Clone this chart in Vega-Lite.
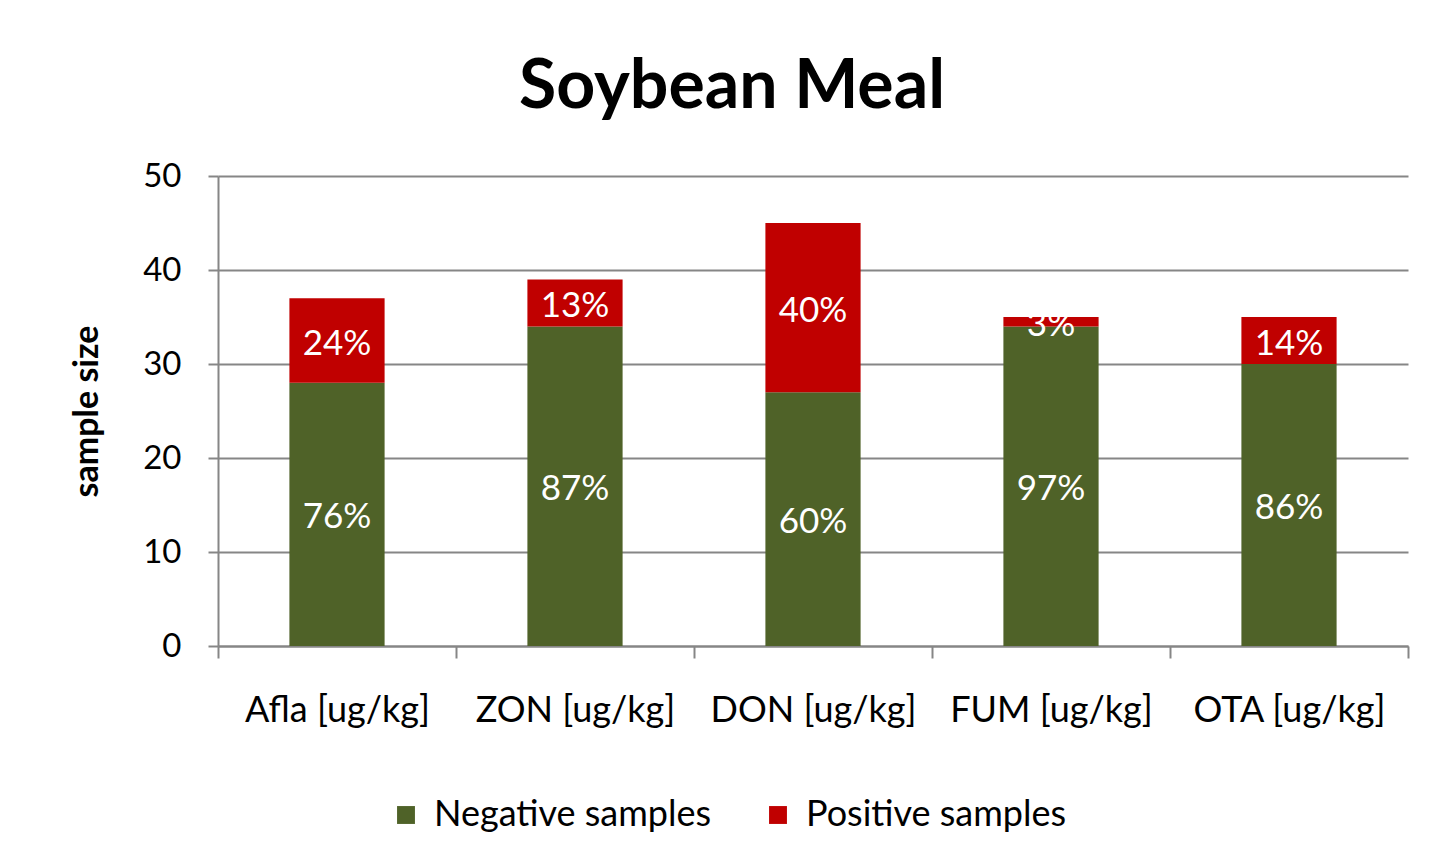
{
  "$schema": "https://vega.github.io/schema/vega-lite/v6.json",
  "width": 1190,
  "height": 470,
  "autosize": {"type": "none"},
  "padding": {"left": 218, "top": 176, "right": 27, "bottom": 222},
  "background": "white",
  "config": {"view": {"stroke": null}, "font": "Lato"},
  "title": {"text": "Soybean Meal", "font": "Lato", "fontSize": 68, "fontWeight": "bold", "color": "black", "anchor": "middle", "dx": -81, "offset": 38},
  "data": {"values": [
    {"toxin": "Afla [ug/kg]", "type": "Negative samples", "count": 28, "pct": "76%"},
    {"toxin": "Afla [ug/kg]", "type": "Positive samples", "count": 9, "pct": "24%"},
    {"toxin": "ZON [ug/kg]", "type": "Negative samples", "count": 34, "pct": "87%"},
    {"toxin": "ZON [ug/kg]", "type": "Positive samples", "count": 5, "pct": "13%"},
    {"toxin": "DON [ug/kg]", "type": "Negative samples", "count": 27, "pct": "60%"},
    {"toxin": "DON [ug/kg]", "type": "Positive samples", "count": 18, "pct": "40%"},
    {"toxin": "FUM [ug/kg]", "type": "Negative samples", "count": 34, "pct": "97%"},
    {"toxin": "FUM [ug/kg]", "type": "Positive samples", "count": 1, "pct": "3%"},
    {"toxin": "OTA [ug/kg]", "type": "Negative samples", "count": 30, "pct": "86%"},
    {"toxin": "OTA [ug/kg]", "type": "Positive samples", "count": 5, "pct": "14%"}
  ]},
  "transform": [
    {"stack": "count", "groupby": ["toxin"], "sort": [{"field": "type", "order": "ascending"}], "as": ["y0", "y1"]},
    {"calculate": "(datum.y0 + datum.y1) / 2", "as": "ymid"}
  ],
  "encoding": {
    "x": {
      "field": "toxin", "type": "nominal", "sort": null,
      "scale": {"paddingInner": 0, "paddingOuter": 0},
      "axis": {"title": null, "labelAngle": 0, "tickBand": "extent", "tickSize": 12, "tickColor": "#868686", "tickWidth": 2, "domainColor": "#868686", "domainWidth": 2, "labelFont": "Lato", "labelFontSize": 36, "labelColor": "black", "labelPadding": 35, "labelLimit": 400}
    }
  },
  "layer": [
    {
      "mark": {"type": "bar", "width": {"band": 0.4}},
      "encoding": {
        "y": {"field": "y0", "type": "quantitative", "scale": {"domain": [0, 50]},
          "axis": {"values": [0, 10, 20, 30, 40, 50], "title": "sample size", "titleFont": "Lato", "titleFontSize": 34, "titleFontWeight": "bold", "titleColor": "black", "titlePadding": 38, "grid": true, "gridColor": "#868686", "gridWidth": 2, "tickSize": 10, "tickColor": "#868686", "tickWidth": 2, "domainColor": "#868686", "domainWidth": 2, "labelFont": "Lato", "labelFontSize": 33, "labelColor": "black", "labelPadding": 27}},
        "y2": {"field": "y1"},
        "color": {"field": "type", "type": "nominal",
          "scale": {"domain": ["Negative samples", "Positive samples"], "range": ["#4F6228", "#C00000"]},
          "legend": {"title": null, "orient": "none", "legendX": 170, "legendY": 621, "direction": "horizontal", "symbolType": "square", "symbolSize": 320, "symbolStrokeWidth": 0, "labelFont": "Lato", "labelFontSize": 36, "labelColor": "black", "labelOffset": 10, "labelLimit": 400, "columnPadding": 48}}
      }
    },
    {
      "mark": {"type": "text", "color": "white", "font": "Lato", "fontSize": 35, "align": "center", "baseline": "middle", "dy": 3},
      "encoding": {
        "y": {"field": "ymid", "type": "quantitative"},
        "text": {"field": "pct"}
      }
    }
  ]
}
